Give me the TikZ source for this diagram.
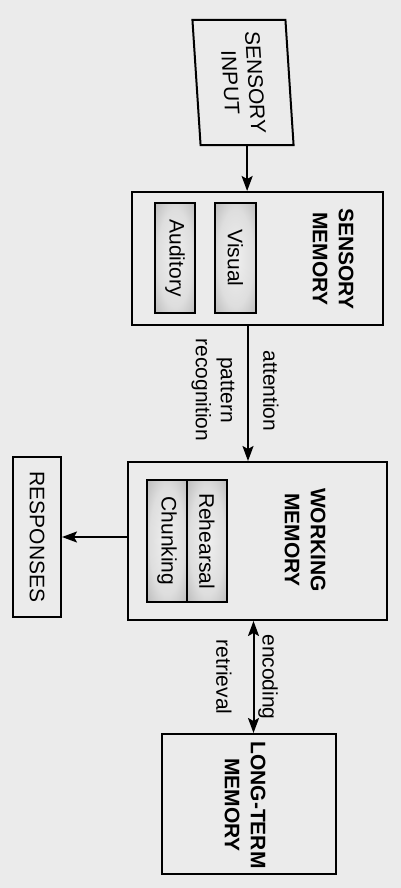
\documentclass[tikz,border=0pt]{standalone}
\usepackage{fontspec}
\setmainfont{Liberation Sans}
\usetikzlibrary{arrows.meta}
\pgfdeclareradialshading{storeshade}{\pgfpoint{0bp}{0bp}}{%
  color(0bp)=(black!6); color(22bp)=(black!13); color(42bp)=(black!33);
  color(50bp)=(black!48)}

\begin{document}
\begin{tikzpicture}[x=1pt,y=-1pt,
  every node/.style={rotate=-90,inner sep=0pt,align=center,
    font=\fontsize{21}{25}\selectfont},
  box/.style={draw,line width=2pt},
  title/.style={font=\fontsize{21}{26}\selectfont\bfseries},
  store/.style={draw,line width=2pt,shading=storeshade},
  arr/.style={line width=2pt,-{Stealth[length=15pt,width=11pt,inset=3pt]}},
  dbl/.style={line width=2pt,
    {Stealth[length=15pt,width=11pt,inset=3pt]}-{Stealth[length=15pt,width=11pt,inset=3pt]}}]
  \fill[black!8] (0,0) rectangle (401,888);
  \useasboundingbox (0,0) rectangle (401,888);

  \node[box,minimum width=125pt,minimum height=93pt,yslant=.065] (in) at (243,82.5)
    {SENSORY\\INPUT};

  \node[box,minimum width=133pt,minimum height=251pt] (sm) at (257.5,258.5) {};
  \node[title] (smt) at (333,259) {SENSORY\\MEMORY};
  \node[store,minimum width=110pt,minimum height=41pt] (vis) at (235.5,258) {Visual};
  \node[store,minimum width=110pt,minimum height=40pt] (aud) at (175,258) {Auditory};

  \node[box,minimum width=158pt,minimum height=259pt] (wm) at (257.5,541) {};
  \node[title] (wmt) at (305,540) {WORKING\\MEMORY};
  \node[store,minimum width=122pt,minimum height=40pt] (reh) at (207,541) {Rehearsal};
  \node[store,minimum width=122pt,minimum height=40pt] (chu) at (167,541) {Chunking};

  \node[box,minimum width=160pt,minimum height=48pt] (resp) at (37,537) {RESPONSES};

  \node[box,minimum width=140pt,minimum height=174pt] (ltm) at (249,804) {};
  \node[title] (ltmt) at (245,805) {LONG-TERM\\MEMORY};

  \node (att) at (271,391) {attention};
  \node (pat) at (213,390) {pattern\\recognition};
  \node (enc) at (268,677) {encoding};
  \node (ret) at (224,677) {retrieval};

  \draw[arr] (in.east) -- (in.east |- sm.west);
  \draw[arr] ([xshift=-9.5pt]sm.east) -- ([xshift=-9.5pt]sm.east |- wm.west);
  \draw[arr] (wm.south |- resp) -- (resp.north);
  \draw[dbl] ([xshift=-4pt]wm.east) -- ([xshift=-4pt]wm.east |- ltm.west);
\end{tikzpicture}
\end{document}
